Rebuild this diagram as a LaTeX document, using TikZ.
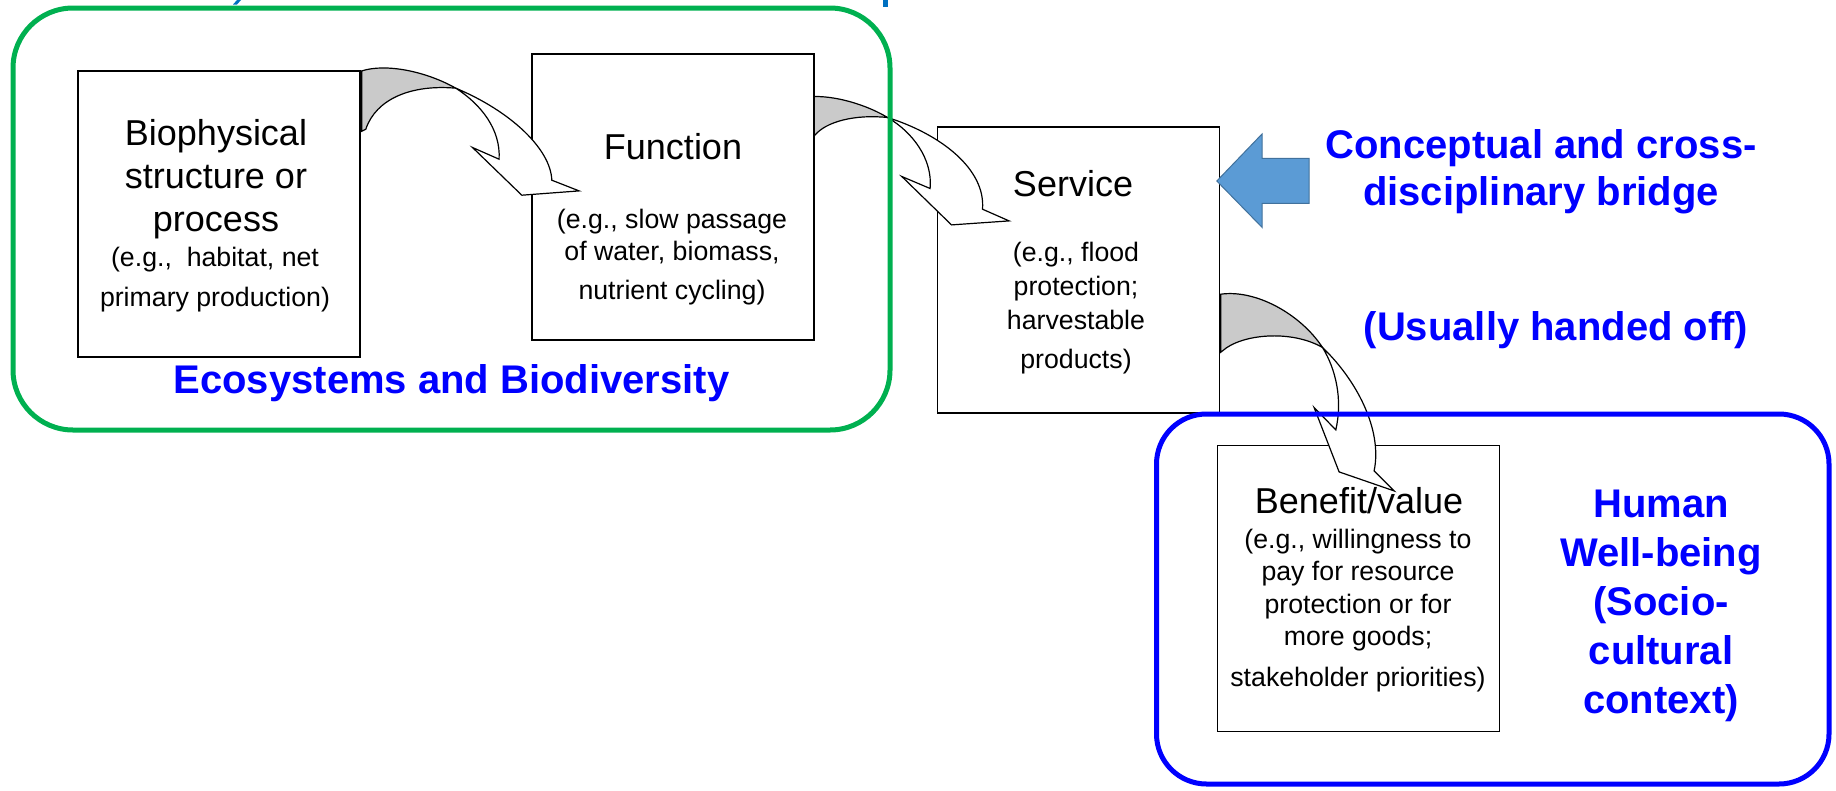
\documentclass[tikz,border=0pt]{standalone}
\usepackage{fontspec}
\setmainfont{Liberation Sans}
\definecolor{ecogreen}{HTML}{00B050}
\definecolor{hwblue}{HTML}{0000FF}
\definecolor{bridgefill}{HTML}{5B9BD5}
\definecolor{bridgeedge}{HTML}{41719C}
\definecolor{titleblue}{HTML}{0070C0}
\definecolor{backgrey}{HTML}{CACACA}
\tikzset{
  stagebox/.style={draw=black, line width=1.6pt, fill=white, inner sep=0pt,
    minimum width=282pt, minimum height=286pt},
  curvearrow/.style={draw=black, line width=1.2pt, line join=miter},
  backface/.style={curvearrow, fill=backgrey},
  frontface/.style={curvearrow, fill=white},
  % multi-line texts are placed by the baseline of their last line
  headtext/.style={font=\fontsize{36}{43.3}\selectfont, align=center, anchor=base, inner sep=0pt},
  notetext/.style={font=\fontsize{26.7}{32.5}\selectfont, align=center, anchor=base, inner sep=0pt},
  bluelabel/.style={font=\bfseries\fontsize{40}{47}\selectfont, text=hwblue, align=center, anchor=base, inner sep=0pt},
  framebox/.style={line width=5pt, rounded corners=#1},
}
\begin{document}
\begin{tikzpicture}[x=1pt,y=-1pt]
\useasboundingbox (0,0) rectangle (1836,790);

% fragments of the title line above
\fill[titleblue] (237,0) -- (241,0) -- (237,4.5) -- (233,4.5) -- cycle;
\fill[titleblue] (883,0) rectangle (888,6.5);

% the four stages
\node[stagebox] (bio)  at (219,214) {};
\node[stagebox] (func) at (673,197) {};
\node[stagebox] (svc)  at (1078.5,270) {};
\node[stagebox] (ben)  at (1358.5,588.5) {};

% curved arrow: structure -> function
\begin{scope}[shift={(bio.north east)}]
  \draw[backface] (1,0.7) .. controls (25,-7) and (65,1) .. (95,18)
    .. controls (50,14) and (15,29) .. (5,59) -- (1,61) -- cycle;
  \draw[frontface] (95,18) .. controls (150,41) and (190,79) .. (191,110)
    -- (218.3,120.7) -- (161,125) -- (111.7,77.3) -- (138.3,89)
    .. controls (140,59) and (120,34) .. (95,18) -- cycle;
\end{scope}

% curved arrow: function -> service
\begin{scope}[shift={(func.north east)}]
  \draw[backface] (-0.5,43.3) .. controls (26,43) and (56,54) .. (72.7,64.3)
    .. controls (41,61) and (11,68) .. (-0.5,82.7) -- cycle;
  \draw[frontface] (72.7,64.3) .. controls (126,81) and (171,116) .. (167.7,156)
    -- (194.3,167.7) -- (136.7,171.7) -- (87,123.3) -- (115.3,135.3)
    .. controls (118,106) and (98,79) .. (72.7,64.3) -- cycle;
\end{scope}

% curved arrow: service -> benefit
\begin{scope}[shift={(svc.north east)}]
  \draw[backface] (0.5,168) .. controls (35.5,163) and (80.5,188) .. (102.2,221.3)
    .. controls (70.5,203) and (20.5,208) .. (2.2,224.7) -- (0.5,226) -- cycle;
  \draw[frontface] (102.2,221.3) .. controls (135.5,253) and (162.5,303) .. (153.8,344.7)
    -- (173.8,364.7) -- (118.8,345.7) -- (93.8,281.3) -- (115.5,303.7)
    .. controls (122.5,273) and (115.5,243) .. (102.2,221.3) -- cycle;
\end{scope}

% bridge arrow pointing at the service stage
\draw[fill=bridgefill, draw=bridgeedge, line width=1pt]
  (svc.east |- 0,181) ++(-3.5,0) coordinate (bridgetip)
  -- (1262,134) -- (1262,158.3) -- (1309,158.3) -- (1309,203.3)
  -- (1262,203.3) -- (1262,227.3) -- cycle;

% grouping frames
\draw[framebox=60pt, draw=ecogreen] (13,8) rectangle (890,430);
\draw[framebox=50pt, draw=hwblue] (1156.5,414) rectangle (1829,784);

% stage texts
\node[headtext] (biohead) at (216,231.6) {Biophysical\\structure or\\process};
\node[notetext, font=\fontsize{26.7}{40}\selectfont] (bionote) at (215,306.7) {(e.g.,\ \ habitat, net\\primary production)};
\node[headtext] (funchead) at (673,159.3) {Function};
\node[notetext] (funcnote) at (672,299.8) {(e.g., slow passage\\of water, biomass,\\[6.5pt]nutrient cycling)};
\node[headtext] (svchead) at (1073,196.7) {Service};
\node[notetext, font=\fontsize{26.7}{34}\selectfont] (svcnote) at (1076,368.7) {(e.g., flood\\protection;\\harvestable\\[5pt]products)};
\node[headtext] (benhead) at (1359,513) {Benefit/value};
\node[notetext] (bennote) at (1358,686) {(e.g., willingness to\\pay for resource\\protection or for\\more goods;\\[8pt]stakeholder priorities)};

% group labels
\node[bluelabel] (ecolabel) at (451.5,393.3) {Ecosystems and Biodiversity};
\node[bluelabel] (bridgelabel) at (1541,205) {Conceptual and cross-\\disciplinary bridge};
\node[bluelabel] (handoff) at (1556,340) {(Usually handed off)};
\node[bluelabel, font=\bfseries\fontsize{40}{49.2}\selectfont] (wellbeing) at (1661,713.8) {Human\\Well-being\\(Socio-\\cultural\\context)};
\end{tikzpicture}
\end{document}
